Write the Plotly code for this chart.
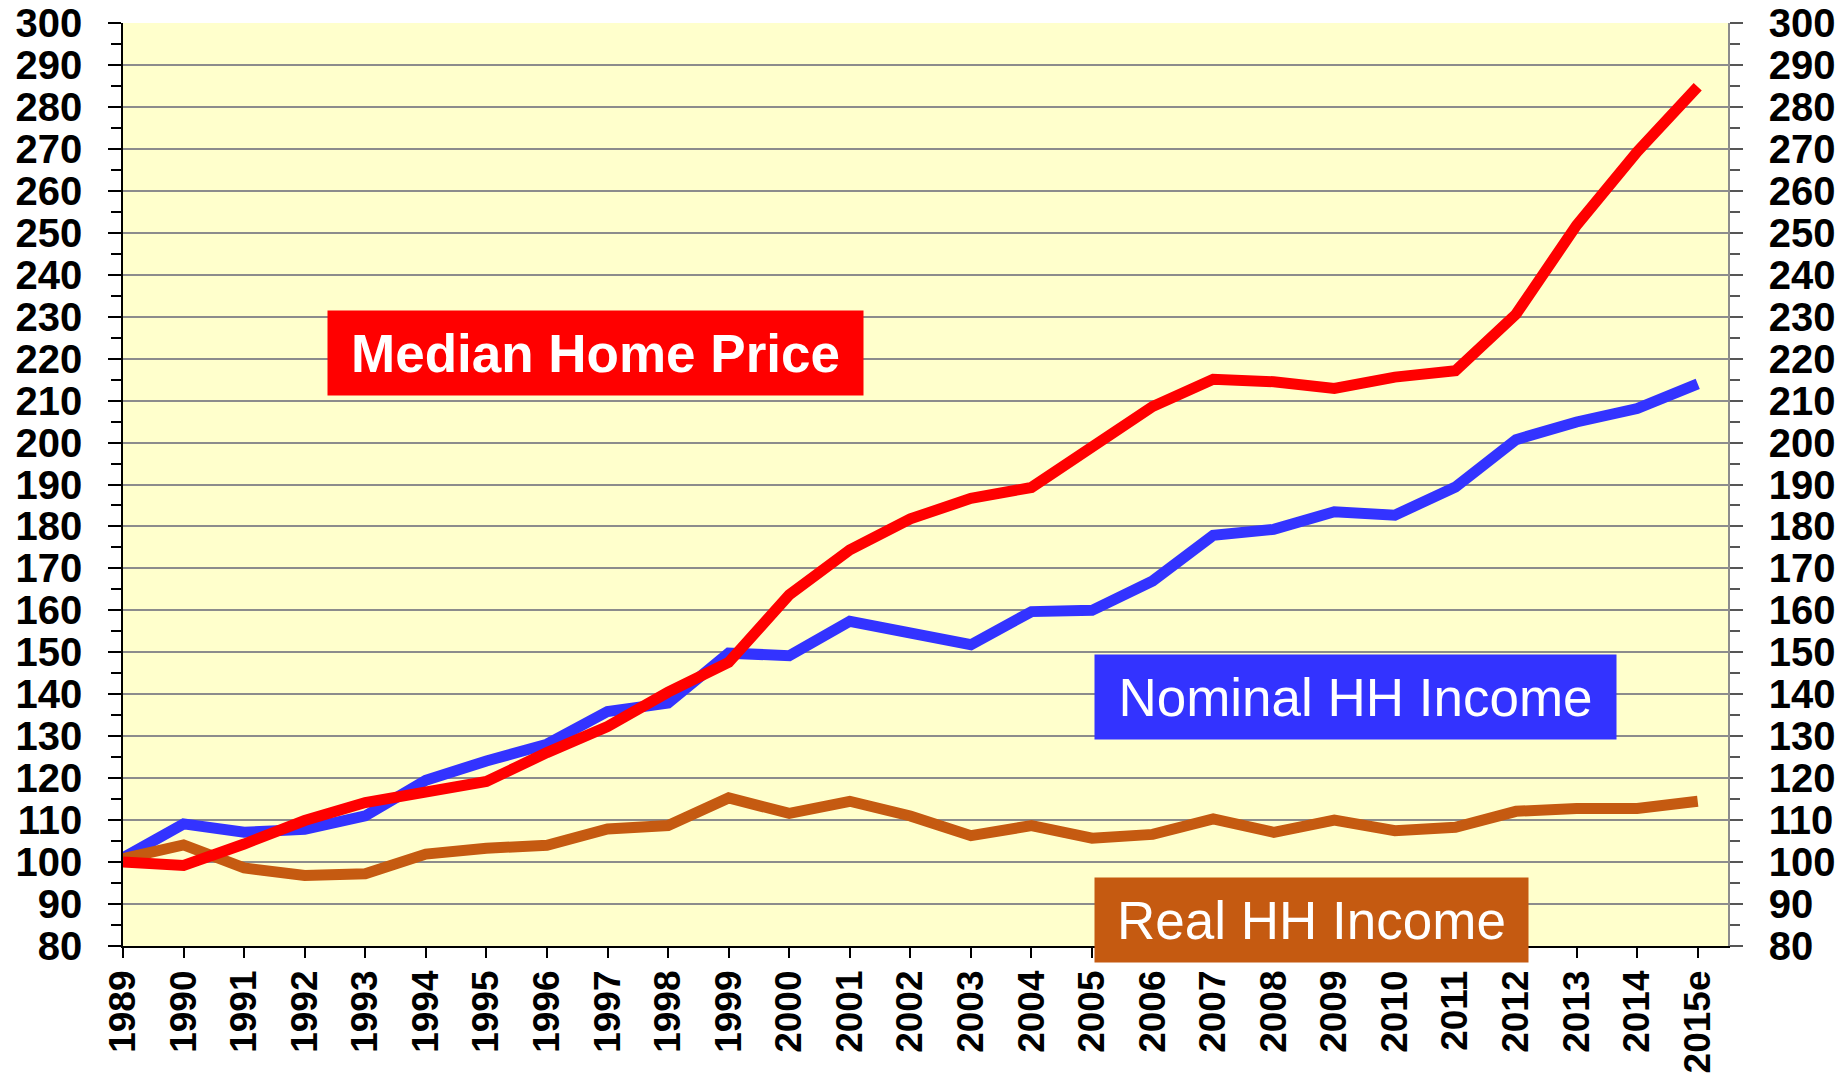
import plotly.graph_objects as go

years = ["1989", "1990", "1991", "1992", "1993", "1994", "1995", "1996", "1997",
         "1998", "1999", "2000", "2001", "2002", "2003", "2004", "2005", "2006",
         "2007", "2008", "2009", "2010", "2011", "2012", "2013", "2014", "2015e"]

median_home_price = [100, 99.2, 104.3, 109.9, 114.2, 116.8, 119.2, 126.1, 132.3,
                     140.5, 147.6, 163.7, 174.4, 181.8, 186.7, 189.3, 199.0, 208.6,
                     215.1, 214.5, 212.9, 215.6, 217.1, 230.6, 251.8, 269.3, 284.8]

nominal_hh_income = [101, 109.1, 107.1, 107.8, 111.0, 119.5, 124.1, 128.1, 135.9,
                     137.9, 149.8, 149.2, 157.4, 154.8, 151.8, 159.7, 160.0, 167.0,
                     177.9, 179.3, 183.5, 182.7, 189.4, 200.7, 204.9, 208.1, 214.0]

real_hh_income = [100.8, 104.1, 98.6, 96.8, 97.2, 101.9, 103.3, 104.0, 107.9,
                  108.7, 115.3, 111.6, 114.5, 111.0, 106.3, 108.7, 105.7, 106.6,
                  110.3, 107.1, 110.0, 107.5, 108.3, 112.1, 112.8, 112.8, 114.5]

FONT = "Liberation Sans, Arial, sans-serif"
RED = "#FF0000"
BLUE = "#3333FF"
BROWN = "#C55A11"
LINE_W = 11

fig = go.Figure()

fig.add_trace(
    go.Scatter(
        x=years,
        y=nominal_hh_income,
        mode="lines",
        line=dict(color=BLUE, width=LINE_W),
        name="Nominal HH Income"
    )
)

fig.add_trace(
    go.Scatter(
        x=years,
        y=real_hh_income,
        mode="lines",
        line=dict(color=BROWN, width=LINE_W),
        name="Real HH Income"
    )
)

fig.add_trace(
    go.Scatter(
        x=years,
        y=median_home_price,
        mode="lines",
        line=dict(color=RED, width=LINE_W),
        name="Median Home Price"
    )
)

# invisible trace so the right-hand axis is drawn
fig.add_trace(
    go.Scatter(
        x=years,
        y=median_home_price,
        yaxis="y2",
        mode="lines",
        line=dict(width=0),
        opacity=0,
        hoverinfo="skip",
        showlegend=False
    )
)

x_tick_font = dict(family=FONT, size=37, color="black", weight="bold")
y_tick_font = dict(family=FONT, size=40, color="black", weight="bold")

# the page body adds an 8px offset, so the figure is 8px smaller than the window
fig.update_layout(
    width=1837,
    height=1065,
    margin=dict(l=115, r=117, t=15, b=127),
    paper_bgcolor="white",
    plot_bgcolor="#FFFFCC",
    showlegend=False,
    xaxis=dict(
        type="category",
        range=[0, 26.5],
        dtick=1,
        automargin=False,
        ticks="outside",
        ticklen=10,
        tickwidth=1.5,
        tickcolor="black",
        tickangle=-90,
        tickfont=x_tick_font,
        ticklabelstandoff=-2,
        ticklabeloverflow="allow",
        showline=True,
        linecolor="black",
        linewidth=1.5,
        showgrid=False,
        zeroline=False
    ),
    yaxis=dict(
        range=[80, 300],
        dtick=10,
        automargin=False,
        ticks="outside",
        ticklen=13,
        tickwidth=1.5,
        tickcolor="black",
        tickfont=y_tick_font,
        ticklabelstandoff=18,
        ticklabeloverflow="allow",
        minor=dict(dtick=5, ticks="outside", ticklen=10, tickwidth=1.5,
                   tickcolor="black", showgrid=False),
        showline=True,
        linecolor="black",
        linewidth=1.5,
        showgrid=True,
        gridcolor="#8C8C8C",
        gridwidth=1.5,
        zeroline=False
    ),
    yaxis2=dict(
        range=[80, 300],
        dtick=10,
        overlaying="y",
        side="right",
        automargin=False,
        ticks="outside",
        ticklen=13,
        tickwidth=1.5,
        tickcolor="#555555",
        tickfont=y_tick_font,
        ticklabelstandoff=18,
        ticklabeloverflow="allow",
        minor=dict(dtick=5, ticks="outside", ticklen=10, tickwidth=1.5,
                   tickcolor="#555555", showgrid=False),
        showline=True,
        linecolor="#8C8C8C",
        linewidth=1.5,
        showgrid=False,
        zeroline=False
    )
)

labels = [
    ("<b>Median Home Price</b>", RED, 0.1273, 0.6890, 535),
    ("Nominal HH Income", BLUE, 0.6052, 0.3161, 521),
    ("Real HH Income", BROWN, 0.6052, 0.0745, 433),
]

for text, colour, x, y, w in labels:
    fig.add_annotation(
        text=text,
        xref="paper",
        yref="paper",
        x=x,
        y=y,
        xanchor="left",
        yanchor="top",
        showarrow=False,
        width=w,
        height=84,
        align="center",
        valign="middle",
        bgcolor=colour,
        borderpad=0,
        font=dict(family=FONT, size=53, color="white")
    )

fig.write_html("out.html")
